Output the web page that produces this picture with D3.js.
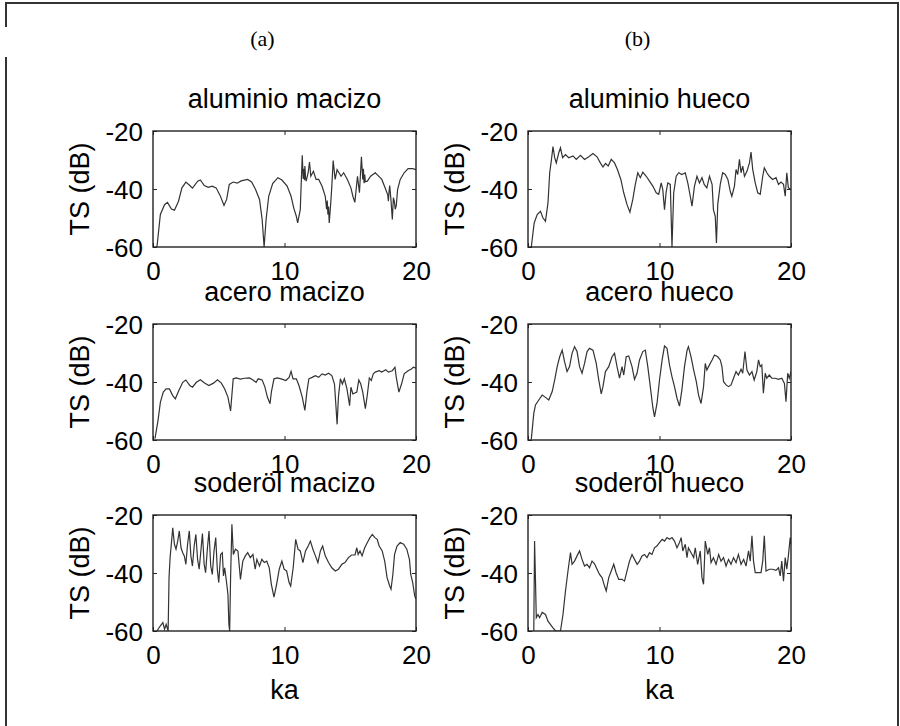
<!DOCTYPE html>
<html>
<head>
<meta charset="utf-8">
<script src="https://cdn.jsdelivr.net/npm/d3@7"></script>
<style>
  body { margin: 0; background: #fff; }
  svg { display: block; }
  .tick line { stroke: #222; }
  .domain { display: none; }
</style>
</head>
<body>
<svg></svg>
<script>
// Panel titles and column labels
const titles = [
  "aluminio macizo", "aluminio hueco",
  "acero macizo", "acero hueco",
  "soderöl macizo", "soderöl hueco"
];
const columnLabels = ["(a)", "(b)"];
const xTicks = [0, 10, 20];
const yTicks = [-20, -40, -60];

// [ka, TS dB]
const aluminioMacizo = [
  [0.3,-60],[0.56,-48.8],[0.88,-45.4],[1.1,-44.6],[1.4,-46.9],[1.63,-47.3],[1.94,-44.2],[2.2,-39.6],
  [2.5,-37.6],[2.8,-38.8],[3.0,-39.7],[3.4,-37.3],[3.6,-36.9],[3.9,-38.8],[4.2,-39.4],[4.5,-39],
  [4.8,-39.6],[5.1,-42.2],[5.4,-45.7],[5.6,-43.6],[5.8,-38.4],[6.1,-37.6],[6.4,-38],[6.7,-37.2],
  [7.2,-36.7],[7.5,-37.6],[7.8,-40.2],[8.1,-43.6],[8.3,-50.5],[8.45,-60],[8.6,-50.5],[8.8,-42.5],
  [9.1,-38.1],[9.5,-36.1],[9.8,-36.9],[10.2,-39],[10.5,-42.5],[10.7,-46.5],[10.9,-49.4],[11.0,-51.7],
  [11.2,-47.1],[11.35,-28.4],[11.42,-36.5],[11.47,-33],[11.52,-37],[11.55,-32.1],[11.6,-36],[11.65,-37.3],
  [11.8,-34.4],[11.9,-30.7],[12.0,-35.6],[12.2,-33.9],[12.4,-36.7],[12.6,-36.7],[12.85,-39],[13.1,-42.5],
  [13.2,-47],[13.25,-44],[13.3,-48.8],[13.35,-46],[13.4,-51.7],[13.5,-45.9],[13.6,-39],[13.7,-30.2],
  [13.85,-36.7],[14.0,-33.3],[14.3,-35.6],[14.5,-34.4],[14.8,-36.9],[15.05,-39.6],[15.2,-42.5],[15.35,-44.6],
  [15.55,-35.6],[15.7,-41.3],[15.85,-28.9],[15.95,-36.7],[16.0,-33],[16.05,-38],[16.1,-35],[16.15,-37.5],
  [16.3,-37.3],[16.55,-35.6],[16.9,-34.4],[17.1,-35.3],[17.4,-36.7],[17.7,-40.2],[17.85,-42],[17.9,-44.2],
  [17.95,-41],[18.0,-38.8],[18.1,-44],[18.2,-50.5],[18.28,-43],[18.35,-44.2],[18.42,-47],[18.5,-45.7],
  [18.6,-40.2],[18.8,-36.7],[19.1,-34.4],[19.4,-33],[19.75,-33],[20,-33.3]
];
const aluminioHueco = [
  [0.25,-60],[0.47,-51.7],[0.7,-48.8],[0.95,-47.7],[1.14,-50],[1.33,-51.1],[1.52,-44.8],[1.65,-34.4],
  [1.77,-30.4],[1.9,-25.4],[2.03,-29.2],[2.15,-31],[2.34,-27.5],[2.47,-25.8],[2.63,-29.2],[2.85,-28.1],
  [3.1,-29.2],[3.42,-28.6],[3.67,-29.8],[3.99,-28.4],[4.3,-29.8],[4.62,-28.9],[4.94,-27.8],[5.25,-28.9],
  [5.5,-31],[5.7,-32.4],[5.9,-31.2],[6.1,-32.1],[6.33,-29.8],[6.58,-31],[6.8,-33.3],[7.06,-36.7],
  [7.28,-41.3],[7.53,-45.4],[7.75,-48],[7.97,-43.6],[8.16,-38.4],[8.35,-34.4],[8.54,-36.1],[8.73,-34.2],
  [8.99,-35.6],[9.24,-37.3],[9.49,-39],[9.75,-41.3],[9.94,-41.8],[10.13,-37.9],[10.25,-40.2],[10.38,-47.1],
  [10.5,-41.3],[10.63,-37.9],[10.82,-38.4],[10.95,-60],[11.08,-41.3],[11.27,-35.6],[11.46,-34.4],[11.7,-35],
  [11.96,-34.4],[12.15,-37.9],[12.34,-42.5],[12.47,-45.9],[12.66,-39],[12.85,-35.6],[13.04,-37.9],[13.23,-36.1],
  [13.4,-38.4],[13.6,-39.6],[13.8,-35.6],[14.0,-38.4],[14.1,-47.1],[14.24,-49.4],[14.33,-58.6],[14.43,-45.3],
  [14.62,-38.4],[14.8,-34.4],[15.0,-35],[15.2,-36.7],[15.38,-40.8],[15.5,-42.5],[15.7,-39],[15.82,-33.3],
  [15.95,-35],[16.08,-29.8],[16.2,-34.4],[16.33,-32.1],[16.46,-35.6],[16.65,-33.9],[16.84,-31],[16.96,-27.3],
  [17.09,-33.3],[17.28,-37.9],[17.47,-41.3],[17.66,-41.8],[17.85,-35.6],[17.97,-32.7],[18.16,-34.4],[18.35,-35.6],
  [18.6,-36.7],[18.86,-36.1],[19.05,-38.4],[19.24,-37.6],[19.43,-38.4],[19.56,-42.5],[19.68,-34.4],[19.8,-39.6],
  [20,-40.2]
];
const aceroMacizo = [
  [0.15,-59.5],[0.38,-53.3],[0.56,-47],[0.78,-43.5],[1.0,-42.4],[1.25,-42.4],[1.5,-44.7],[1.7,-45.8],
  [1.94,-43.2],[2.26,-40.1],[2.5,-39.3],[2.8,-41.2],[3.0,-41.8],[3.3,-40.1],[3.6,-39.2],[3.95,-40.4],
  [4.25,-41.2],[4.6,-40.4],[4.9,-39.2],[5.2,-40.4],[5.45,-42.4],[5.7,-45.2],[5.9,-50],[6.1,-38.9],
  [6.33,-38.6],[6.65,-39],[6.96,-38.7],[7.34,-38.6],[7.6,-39.3],[7.84,-40.1],[8.0,-38.9],[8.3,-39.3],
  [8.5,-41.6],[8.7,-45.2],[8.9,-47.5],[9.0,-43.5],[9.2,-38.9],[9.47,-38.6],[9.8,-39],[10.1,-39.5],
  [10.35,-38.4],[10.5,-36.3],[10.65,-38.9],[10.9,-38.9],[11.1,-41.2],[11.35,-45.2],[11.55,-49.8],[11.7,-43.5],
  [11.85,-38.9],[12.1,-38.4],[12.35,-37.8],[12.6,-38.4],[12.85,-37.2],[13.1,-37.6],[13.35,-37],[13.6,-37.8],
  [13.8,-40.7],[13.9,-47.5],[14.0,-54.6],[14.1,-45.2],[14.25,-38.9],[14.4,-40.7],[14.55,-38.9],[14.75,-42.4],
  [14.95,-48.2],[15.05,-41.8],[15.2,-44.1],[15.35,-43.8],[15.5,-43.5],[15.65,-39.3],[15.8,-40.7],[15.95,-43.5],
  [16.15,-49.2],[16.3,-44.4],[16.45,-38.6],[16.6,-39.5],[16.75,-37.2],[16.9,-36.6],[17.2,-36.1],[17.4,-36.6],
  [17.7,-35.8],[17.9,-36.6],[18.2,-36.1],[18.4,-34.9],[18.5,-38.4],[18.7,-43.5],[18.9,-40.7],[19.1,-37.2],
  [19.4,-36.1],[19.65,-35.5],[19.8,-34.9],[20,-35.2]
];
const aceroHueco = [
  [0.25,-59.8],[0.44,-50.8],[0.57,-47.9],[0.82,-46.2],[1.08,-44.5],[1.33,-45.3],[1.58,-46.2],[1.84,-43.3],
  [2.03,-39.3],[2.22,-34.7],[2.41,-31.3],[2.6,-29],[2.78,-33],[2.97,-36.4],[3.16,-34.7],[3.35,-30.1],
  [3.54,-27.8],[3.73,-29.5],[3.92,-34.7],[4.11,-37],[4.3,-33.6],[4.49,-29.5],[4.68,-28.4],[4.94,-29],
  [5.19,-33.6],[5.38,-39.3],[5.57,-44.1],[5.7,-41.6],[5.89,-36.4],[6.14,-34.7],[6.39,-31.3],[6.58,-30.1],
  [6.77,-34.7],[6.96,-38.7],[7.15,-34.7],[7.28,-37.6],[7.47,-31.3],[7.66,-31],[7.91,-34.7],[8.1,-39.1],
  [8.29,-37],[8.48,-32.4],[8.73,-29.5],[8.92,-29],[9.11,-34.7],[9.3,-41.6],[9.49,-48.7],[9.62,-52],
  [9.81,-47.4],[10.0,-39.3],[10.2,-32.4],[10.38,-27.6],[10.57,-28.4],[10.76,-34.1],[10.95,-38.2],[11.14,-41.6],
  [11.33,-45.6],[11.52,-48.3],[11.7,-42.8],[11.9,-34.7],[12.1,-29],[12.2,-27.8],[12.4,-31.3],[12.6,-35.9],
  [12.8,-39.9],[12.97,-44.5],[13.16,-47.4],[13.35,-41.6],[13.48,-33.6],[13.6,-35.9],[13.8,-34.1],[14.0,-32.4],
  [14.18,-30.7],[14.43,-31.3],[14.62,-32.4],[14.75,-34.7],[14.87,-39.9],[15.06,-41],[15.25,-41.6],[15.44,-41],
  [15.63,-38.7],[15.82,-36.4],[16.0,-37.6],[16.2,-35.6],[16.33,-37],[16.5,-29.5],[16.65,-35.9],[16.84,-37.6],
  [17.03,-36.4],[17.2,-39.3],[17.4,-36.4],[17.53,-32.4],[17.66,-34.7],[17.78,-34.1],[17.9,-43.9],[18.04,-37],
  [18.16,-38.7],[18.35,-37.6],[18.54,-38.7],[18.8,-38.7],[19.05,-39.1],[19.3,-38.7],[19.5,-40.5],[19.62,-46.8],
  [19.75,-37],[19.87,-38.7],[20,-36.4]
];
const soderolMacizo = [
  [0.3,-60],[0.56,-58.2],[0.75,-57.1],[0.88,-59.4],[1.0,-57.7],[1.15,-60],[1.22,-41.6],[1.3,-34.7],
  [1.45,-27.2],[1.5,-24.4],[1.63,-30.1],[1.75,-31.8],[1.88,-29],[2.0,-25.5],[2.13,-31.3],[2.26,-33],
  [2.38,-34.1],[2.5,-37],[2.63,-30.1],[2.76,-25.5],[2.88,-34.1],[3.0,-37.6],[3.13,-30.7],[3.26,-26.7],
  [3.39,-35.3],[3.51,-38.7],[3.64,-32.4],[3.76,-26.4],[3.89,-37],[4.0,-39.9],[4.14,-31.3],[4.26,-25.5],
  [4.39,-37.6],[4.51,-40.5],[4.64,-32.4],[4.77,-27.8],[4.89,-38.7],[5.0,-43.3],[5.14,-33.6],[5.27,-33],
  [5.36,-41],[5.45,-38.2],[5.58,-42.7],[5.7,-47.4],[5.77,-57.7],[5.83,-60],[5.9,-41.6],[6.0,-23.2],
  [6.11,-33.6],[6.27,-31.8],[6.46,-32.4],[6.65,-42.2],[6.83,-35.9],[7.02,-34.1],[7.2,-33],[7.4,-34.7],
  [7.6,-33.6],[7.77,-38.7],[7.9,-35.3],[8.1,-37.6],[8.28,-35.3],[8.46,-36.4],[8.65,-35.9],[8.84,-38.2],
  [9.0,-43.9],[9.2,-48.3],[9.4,-43.9],[9.6,-38.7],[9.8,-35.9],[9.97,-38.7],[10.16,-39.3],[10.35,-43.3],
  [10.47,-44.5],[10.66,-38.2],[10.85,-28.4],[11.03,-31.8],[11.2,-32.4],[11.4,-36.4],[11.6,-32.4],[11.8,-30.7],
  [11.97,-29],[12.16,-31.8],[12.35,-34.1],[12.54,-36.4],[12.73,-32.4],[12.9,-30.7],[13.1,-34.1],[13.35,-36.4],
  [13.6,-38.2],[13.86,-39.3],[14.1,-38.7],[14.36,-37],[14.6,-36.4],[14.86,-34.7],[15.1,-33.8],[15.36,-33.8],
  [15.5,-31.3],[15.6,-33.6],[15.74,-32.4],[15.9,-34.1],[16.1,-31.3],[16.3,-29.5],[16.5,-27.8],[16.68,-26.7],
  [16.87,-27.8],[17.05,-28.4],[17.2,-30.7],[17.43,-32.4],[17.62,-35.9],[17.8,-41.6],[18.0,-44.5],[18.1,-45.6],
  [18.24,-40.5],[18.37,-33.6],[18.56,-30.7],[18.8,-29.5],[19.06,-30.1],[19.3,-31.8],[19.5,-35.3],[19.6,-40.5],
  [19.75,-43.3],[19.9,-47.9],[20,-49]
];
const soderolHueco = [
  [0.44,-60],[0.5,-29],[0.57,-42.8],[0.63,-55.4],[0.76,-54.3],[0.88,-55.4],[1.08,-53.6],[1.33,-54.3],
  [1.52,-56.6],[1.7,-57.7],[1.9,-58.9],[2.1,-60],[2.47,-60],[2.66,-54.3],[2.85,-46.2],[3.04,-39.3],
  [3.23,-33],[3.35,-37],[3.54,-35.9],[3.73,-34.1],[3.92,-32.4],[4.11,-35.3],[4.3,-37.6],[4.49,-37],
  [4.68,-38.2],[4.87,-35.9],[5.06,-36.8],[5.25,-38.7],[5.44,-40.5],[5.63,-41.6],[5.82,-44.5],[5.95,-46.2],
  [6.14,-41.6],[6.33,-39.3],[6.52,-37],[6.7,-39.9],[6.9,-42.2],[7.15,-42.2],[7.34,-42.8],[7.53,-39.3],
  [7.72,-35.9],[7.91,-33.6],[8.1,-35.3],[8.3,-37],[8.48,-35.9],[8.67,-34.1],[8.86,-33.6],[9.05,-34.7],
  [9.24,-33],[9.43,-33.6],[9.62,-31.3],[9.8,-30.7],[10.0,-29.5],[10.2,-28.4],[10.38,-29],[10.57,-27.8],
  [10.76,-28.4],[10.95,-27.8],[11.14,-29],[11.33,-31.3],[11.52,-29.5],[11.65,-27.8],[11.77,-32.4],[11.96,-30.1],
  [12.09,-34.7],[12.2,-31.3],[12.4,-33],[12.6,-34.7],[12.72,-31.3],[12.9,-37],[13.1,-32.4],[13.23,-41.6],
  [13.35,-43.9],[13.48,-29],[13.67,-33.6],[13.8,-31.3],[13.92,-36.4],[14.1,-34.7],[14.3,-37],[14.5,-33.6],
  [14.68,-35.9],[14.87,-34.7],[15.06,-37.6],[15.25,-35.3],[15.44,-37],[15.63,-34.7],[15.82,-36.4],[16.0,-33.6],
  [16.2,-37],[16.4,-35.3],[16.58,-37.6],[16.77,-32.4],[16.9,-35.9],[17.03,-27.2],[17.15,-35.9],[17.28,-39.9],
  [17.53,-39.9],[17.72,-39.9],[17.85,-35.9],[17.97,-27.2],[18.1,-39.3],[18.35,-38.7],[18.6,-38.7],[18.86,-39.1],
  [19.05,-38.2],[19.18,-41],[19.3,-35.9],[19.43,-42.8],[19.56,-34.7],[19.68,-38.7],[19.8,-34.1],[19.94,-27.8],
  [20,-30.1]
];
const series = [aluminioMacizo, aluminioHueco, aceroMacizo, aceroHueco, soderolMacizo, soderolHueco];

const W = 900, H = 726;
const sans = "'Liberation Sans', Arial, Helvetica, sans-serif";
const serif = "'Liberation Serif', 'Times New Roman', serif";

const svg = d3.select("svg").attr("width", W).attr("height", H);

// Outer frame (left edge broken behind the column labels)
svg.append("path")
  .attr("d", "M6,57V726M6,27V3H898V726")
  .attr("fill", "none")
  .attr("stroke", "#333")
  .attr("stroke-width", 2);

// Panel grid
const colX = [153, 528], rowY = [131, 324, 515];
const pw = 263, ph = 116;

const x = d3.scaleLinear().domain([0, 20]).range([0, pw]);
const y = d3.scaleLinear().domain([-60, -20]).range([ph, 0]);

const line = d3.line().x((d) => x(d[0])).y((d) => y(d[1]));
const plain = (d) => String(d); // ascii hyphen, as in the original

columnLabels.forEach((t, c) => {
  svg.append("text")
    .attr("x", colX[c] + pw / 2 - 22)
    .attr("y", 46)
    .attr("text-anchor", "middle")
    .style("font-family", serif)
    .style("font-size", "22px")
    .text(t);
});

series.forEach((data, i) => {
  const c = i % 2, r = Math.floor(i / 2);
  const g = svg.append("g").attr("transform", `translate(${colX[c]},${rowY[r]})`);

  g.append("clipPath").attr("id", `clip${i}`)
    .append("rect").attr("width", pw).attr("height", ph);

  // inward ticks like the original
  const xb = g.append("g").attr("transform", `translate(0,${ph})`)
    .call(d3.axisBottom(x).tickValues(xTicks).tickSize(-4).tickPadding(10).tickFormat(plain));
  g.append("g")
    .call(d3.axisTop(x).tickValues(xTicks).tickSize(-4).tickFormat(""));
  const yl = g.append("g")
    .call(d3.axisLeft(y).tickValues(yTicks).tickSize(-4).tickPadding(10).tickFormat(plain));
  g.append("g").attr("transform", `translate(${pw},0)`)
    .call(d3.axisRight(y).tickValues(yTicks).tickSize(-4).tickFormat(""));

  g.selectAll(".tick text")
    .attr("fill", "#000")
    .style("font-family", sans)
    .style("font-size", "26px");
  xb.selectAll(".tick text").attr("dy", "0.9em");
  yl.selectAll(".tick text").attr("dy", "0.36em");

  g.append("path")
    .datum(data)
    .attr("clip-path", `url(#clip${i})`)
    .attr("fill", "none")
    .attr("stroke", "#333")
    .attr("stroke-width", 1.2)
    .attr("d", line);

  g.append("rect")
    .attr("width", pw).attr("height", ph)
    .attr("fill", "none")
    .attr("stroke", "#222")
    .attr("stroke-width", 1.4);

  g.append("text")
    .attr("x", pw / 2).attr("y", -23)
    .attr("text-anchor", "middle")
    .style("font-family", sans)
    .style("font-size", "27px")
    .text(titles[i]);

  g.append("text")
    .attr("transform", `translate(-64,${ph / 2}) rotate(-90)`)
    .attr("text-anchor", "middle")
    .style("font-family", sans)
    .style("font-size", "27px")
    .text("TS (dB)");

  if (r === 2) {
    g.append("text")
      .attr("x", pw / 2).attr("y", ph + 68)
      .attr("text-anchor", "middle")
      .style("font-family", sans)
      .style("font-size", "27px")
      .text("ka");
  }
});
</script>
</body>
</html>
